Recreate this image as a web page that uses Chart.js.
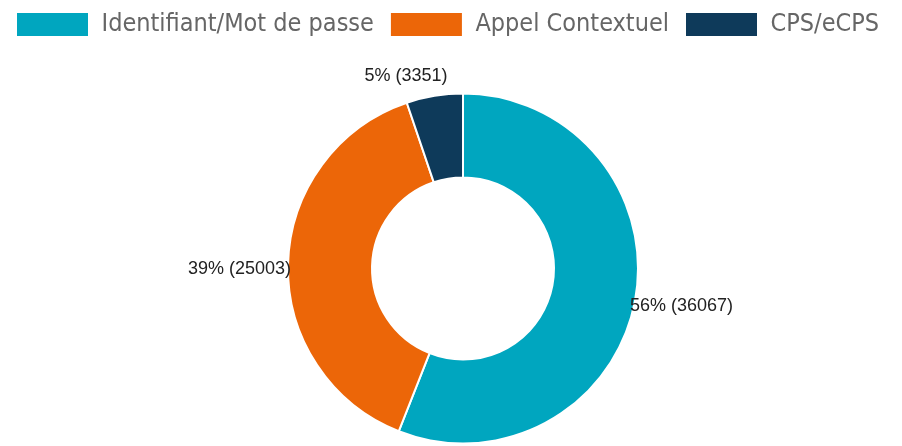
<!DOCTYPE html>
<html>
<head>
<meta charset="utf-8">
<script src="https://cdn.jsdelivr.net/npm/chart.js@4/dist/chart.umd.min.js"></script>
<style>
html,body{margin:0;padding:0;background:#fff;overflow:hidden;width:902px;height:446px;}
#wrap{width:926px;height:494px;position:absolute;left:0;top:-4px;}
</style>
</head>
<body>
<div id="wrap"><canvas id="c"></canvas></div>
<script>
const categories = ["Identifiant/Mot de passe", "Appel Contextuel", "CPS/eCPS"];
const values = [36067, 25003, 3351];
const colors = ["#00a6bf", "#ec6608", "#0e3a5a"];

const total = values.reduce((a, b) => a + b, 0);

const outLabels = {
  id: 'outLabels',
  afterDatasetsDraw(chart) {
    const ctx = chart.ctx;
    const meta = chart.getDatasetMeta(0);
    ctx.save();
    ctx.font = '18px "Liberation Sans", Arial, sans-serif';
    ctx.fillStyle = '#222';
    meta.data.forEach((arc, i) => {
      const p = arc.getProps(['x','y','startAngle','endAngle','outerRadius'], true);
      const mid = (p.startAngle + p.endAngle) / 2;
      const cx = Math.cos(mid), sy = Math.sin(mid);
      const px = p.x + cx * p.outerRadius;
      const py = p.y + sy * p.outerRadius;
      const pct = Math.round(values[i] / total * 100);
      const txt = pct + '% (' + values[i] + ')';
      if (Math.abs(sy) > 0.8) {
        ctx.textAlign = 'right';
        ctx.textBaseline = sy < 0 ? 'bottom' : 'top';
        ctx.fillText(txt, px + 13, py + (sy < 0 ? -11 : 11));
      } else {
        ctx.textAlign = cx >= 0 ? 'left' : 'right';
        ctx.textBaseline = 'middle';
        ctx.fillText(txt, px - (cx >= 0 ? 5 : -3), py + 5);
      }
    });
    ctx.restore();
  }
};

new Chart(document.getElementById('c'), {
  type: 'doughnut',
  data: {
    labels: categories,
    datasets: [{
      data: values,
      backgroundColor: colors,
      borderColor: '#ffffff',
      borderWidth: 2,
      hoverOffset: 0,
      radius: 175
    }]
  },
  options: {
    responsive: true,
    maintainAspectRatio: false,
    animation: false,
    cutout: '52%',
    layout: { padding: 0 },
    plugins: {
      legend: {
        position: 'top',
        align: 'start',
        labels: {
          boxWidth: 73,
          boxHeight: 25,
          padding: 16,
          color: '#666',
          font: { family: '"Liberation Sans Narrow", "Arial Narrow", "DejaVu Sans Condensed", sans-serif', size: 25 }
        }
      },
      tooltip: { enabled: false }
    }
  },
  plugins: [outLabels]
});
</script>
</body>
</html>
